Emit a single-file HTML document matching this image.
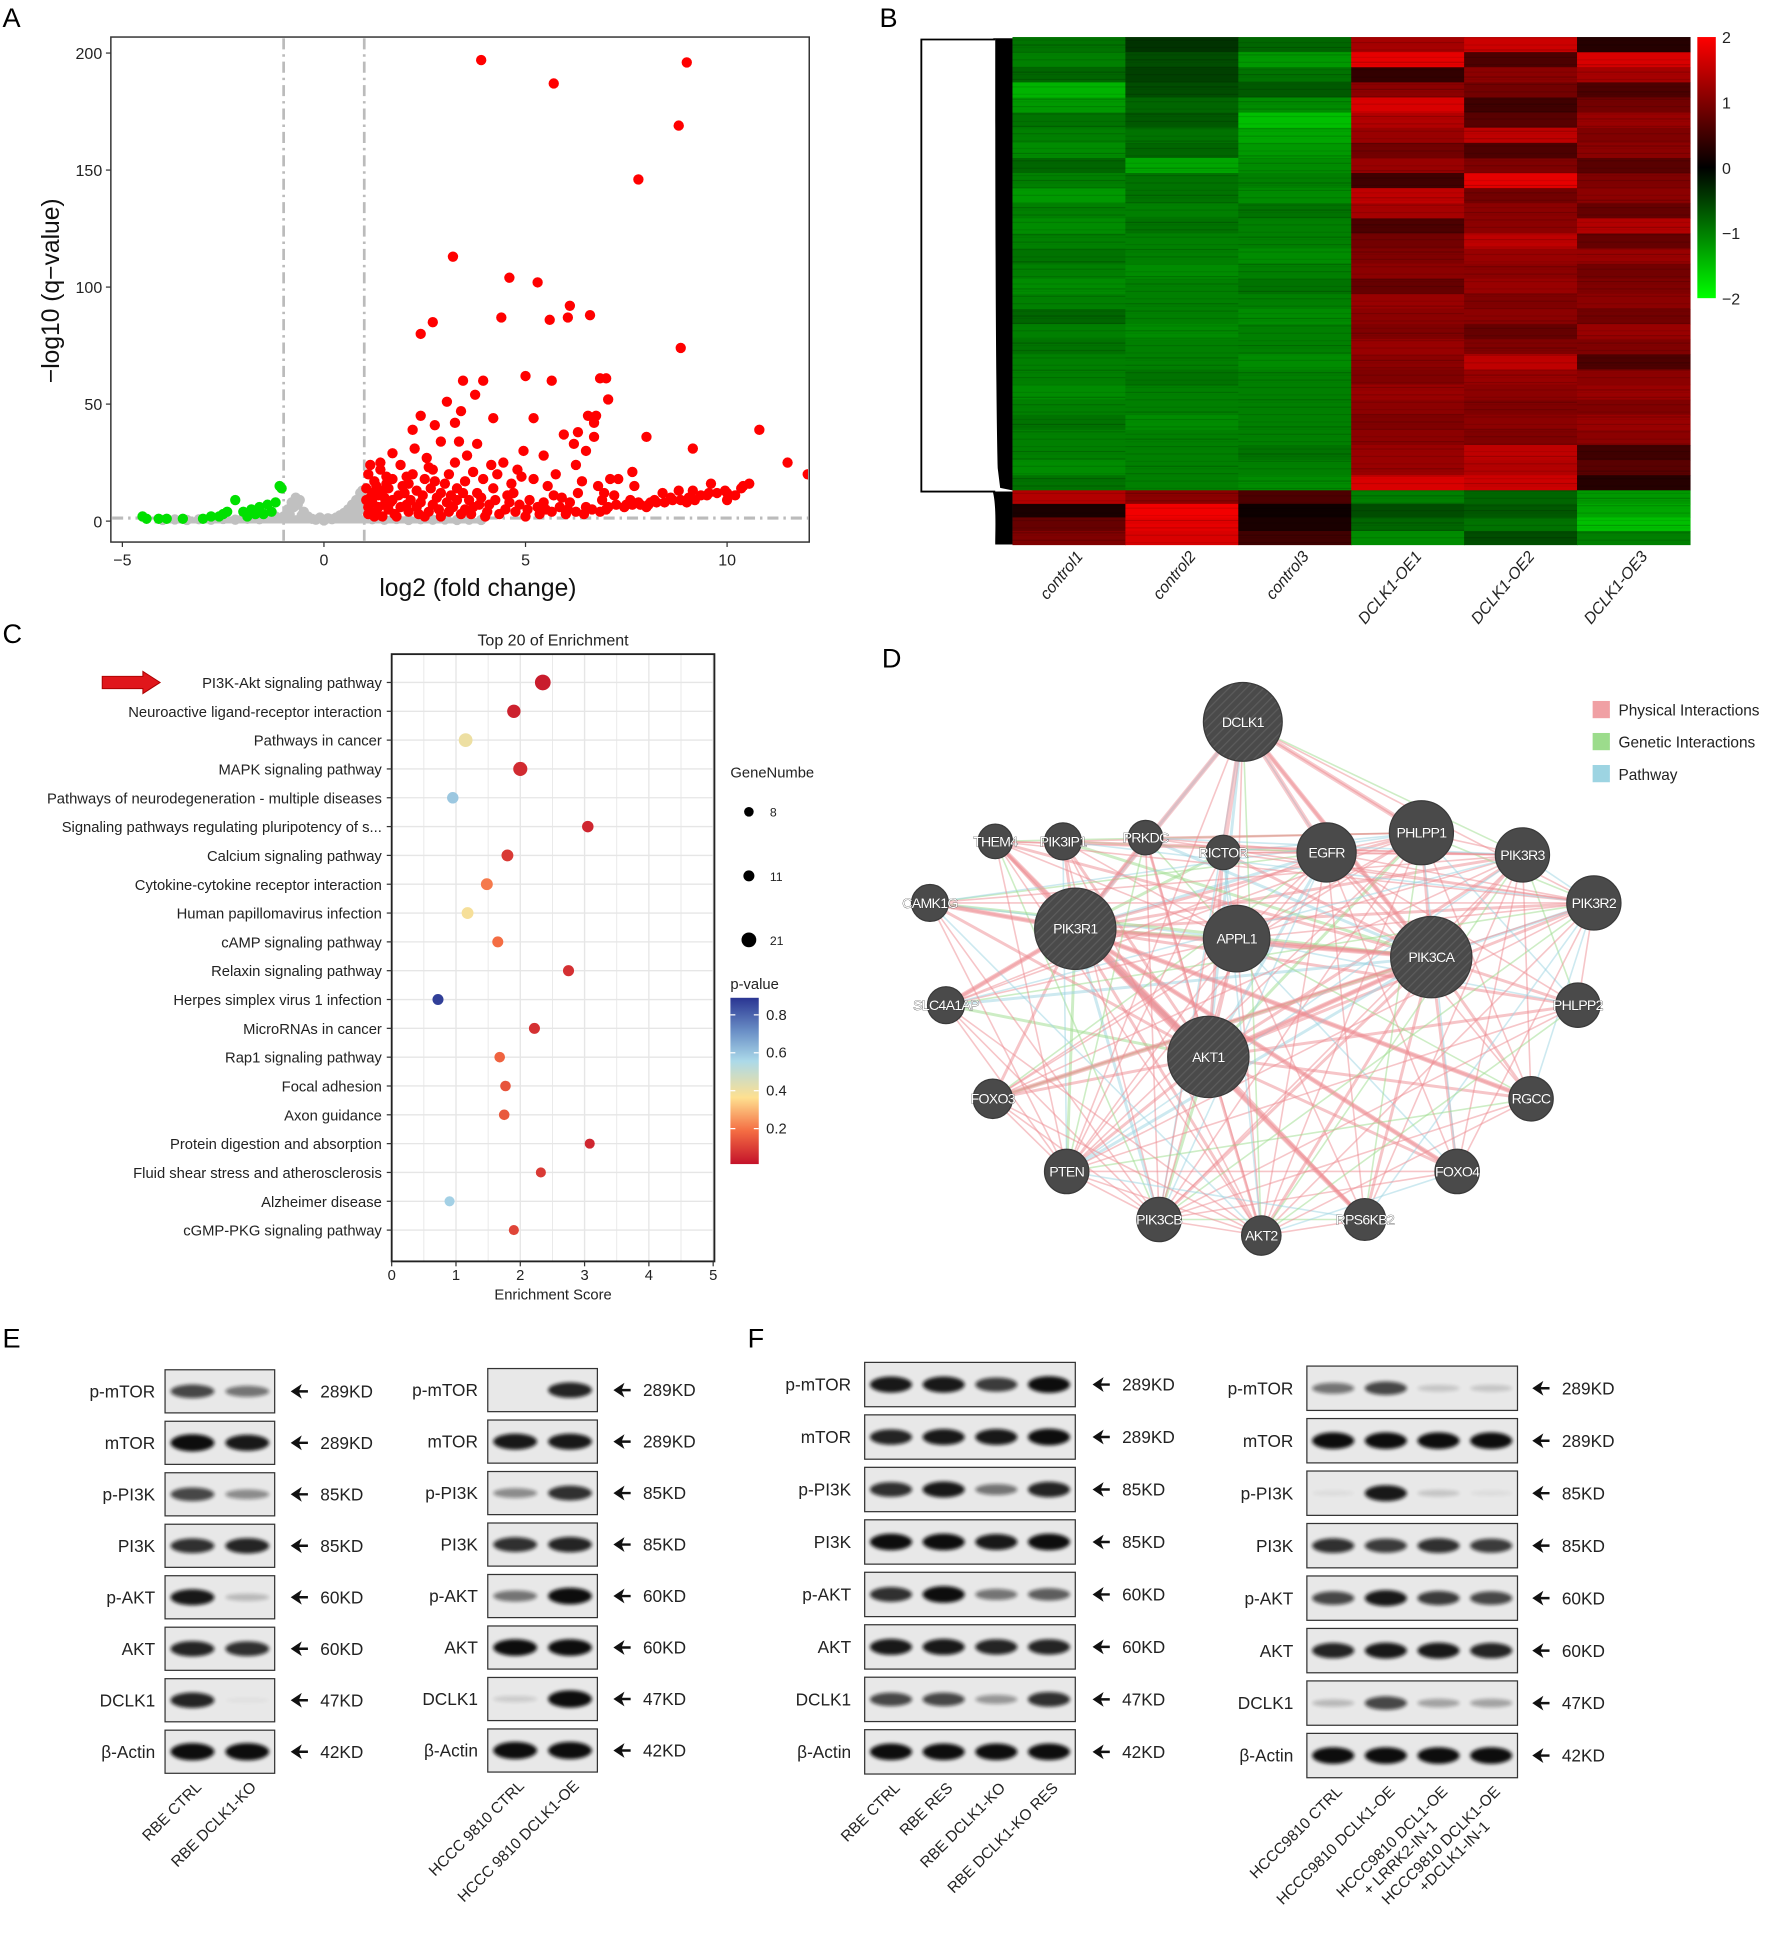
<!DOCTYPE html>
<html><head><meta charset="utf-8"><style>
html,body{margin:0;padding:0;background:#fff}
svg{display:block}
text{font-family:"Liberation Sans",sans-serif}
</style></head><body>
<svg id="fig" width="1770" height="1934" viewBox="0 0 1437 1570" xmlns="http://www.w3.org/2000/svg">
<defs>
<filter id="blur" x="-20%" y="-80%" width="140%" height="260%"><feGaussianBlur stdDeviation="1.6"/></filter>
<linearGradient id="hmbar" x1="0" y1="1" x2="0" y2="0"><stop offset="0" stop-color="#00ff00"/><stop offset="0.5" stop-color="#000"/><stop offset="1" stop-color="#ff0000"/></linearGradient>
<linearGradient id="pbar" x1="0" y1="1" x2="0" y2="0"><stop offset="0" stop-color="#c4122a"/><stop offset="0.2" stop-color="#f46d43"/><stop offset="0.4" stop-color="#fee090"/><stop offset="0.62" stop-color="#abd9e9"/><stop offset="0.8" stop-color="#6a8fc6"/><stop offset="1" stop-color="#2a3592"/></linearGradient>
<pattern id="hatch" width="5" height="5" patternUnits="userSpaceOnUse" patternTransform="rotate(45)"><rect width="5" height="5" fill="#4a4a4a"/><line x1="0" y1="0" x2="0" y2="5" stroke="#5c5c5c" stroke-width="2"/></pattern>
<clipPath id="volcClip"><rect x="91" y="31" width="565" height="408"/></clipPath>
</defs>
<g id="letters" font-size="22">
<text x="2" y="22">A</text>
<text x="714" y="22">B</text>
<text x="2" y="522">C</text>
<text x="716" y="542">D</text>
<text x="2" y="1094">E</text>
<text x="607" y="1094">F</text>
</g>
<g id="A"></g>
<g id="B"></g>
<g id="C"></g>
<g id="D"></g>
<g id="E"></g>
<g id="F"></g>
</svg>
<script>
const NS="http://www.w3.org/2000/svg";
function mk(p,tag,at,txt){const e=document.createElementNS(NS,tag);for(const k in at)e.setAttribute(k,at[k]);if(txt!==undefined)e.textContent=txt;p.appendChild(e);return e;}

/* ===== Panel A data ===== */
const volcRed=[[3.9,197],[9,196],[5.7,187],[8.8,169],[7.8,146],[3.2,113],[4.6,104],[5.3,102],[6.1,92],[4.4,87],[5.6,86],[6.05,87],[6.6,88],[2.7,85],[2.4,80],[8.85,74],[3.45,60],[3.95,60],[5,62],[5.65,60],[7,61],[6.85,61],[7.05,52],[3.05,51],[3.75,54],[3.4,47],[2.4,45],[4.2,44],[5.2,44],[6.55,45],[6.75,45],[6.7,42],[2.75,41],[3.25,42],[2.2,39],[6.3,38],[5.95,37],[8.0,36],[10.8,39],[9.15,31],[6.7,36],[6.5,30],[6.2,33],[2.9,34],[3.35,34],[3.8,33],[4.95,30],[5.45,28],[2.25,31],[1.7,29],[1.4,25],[2.55,27],[3.55,28],[4.45,25],[4.8,22],[6.25,24],[11.5,25],[12,20],[12.05,20],[7.65,21],[7.3,18],[7.1,18],[7.7,15],[9.6,16],[9.15,13],[10.4,15],[10.55,16],[10,12],[10,9],[9.5,11],[8.8,13],[8.4,12],[7.6,9],[8.1,8],[5.2,18],[4.9,19],[5.55,15],[6.8,15],[6.3,12],[5.9,10],[4.2,14],[3.8,12],[3,16],[2.2,20],[1.7,18],[1.3,15],[1.1,20],[1.5,10],[2.4,8],[3.2,6],[4.5,5],[5.5,5],[6.5,6],[7.5,7],[9,8],[1.2,8],[2,12],[2.8,10],[3.6,9],[4.6,8],[1.6,5],[2.6,4],[3.4,3],[4.0,2],[5,2],[6,3],[7,5],[8,6],[9.2,9],[10.2,11],[1.1,3],[1.8,2],[2.9,2],[1.2,12],[1.4,22],[1.6,14],[1.9,24],[2.1,16],[2.3,13],[2.5,18],[2.7,22],[2.9,12],[3.1,20],[3.3,14],[3.5,17],[3.7,21],[3.9,10],[4.1,7],[4.3,20],[4.7,12],[5.1,9],[5.3,6],[5.7,11],[6.1,8],[6.4,17],[6.9,9],[7.2,11],[7.8,8],[8.2,9],[8.6,10],[1.3,4],[1.5,7],[1.7,9],[1.9,6],[2.1,4],[2.3,6],[2.5,2],[2.7,7],[3.1,4],[3.3,9],[3.5,5],[3.7,6],[1.1,6],[1.25,17],[1.85,11],[2.05,7],
[1.15,10],[1.35,6],[1.45,13],[1.55,19],[1.75,3],[1.95,15],[2.15,9],[2.35,3],[2.45,11],[2.65,14],[2.85,5],[3.05,8],[3.15,11],[3.45,12],[3.65,3],[3.85,7],[4.05,4],[4.25,9],[4.35,3],[4.55,11],[4.75,4],[4.85,7],[5.05,5],[5.35,3],[5.45,8],[5.65,4],[5.85,6],[6.05,5],[6.25,4],[6.45,3],[6.65,5],[6.85,4],[7.05,6],[7.25,7],[7.45,6],[7.65,7],[7.85,7],[8.05,7],[8.25,8],[8.45,8],[8.65,9],[8.85,9],[9.05,10],[9.35,11],[9.55,12],[9.75,12],[9.95,13],[10.35,14],[1.05,14],[1.15,24],[1.25,2],[1.45,2],[1.65,8],[2.75,17],[3.25,25],[3.95,18],[4.15,24],[4.65,16],[5.75,20],[6.95,12],[1.05,9],[1.35,11],[1.55,16],[2.05,19],[2.6,23]];
const volcGreen=[[-4.5,2],[-4.4,1],[-4.1,1],[-3.9,1],[-3.5,1],[-2.8,2],[-2.5,3],[-2.4,4],[-2.2,9],[-2,4],[-1.8,5],[-1.6,6],[-1.4,7],[-1.2,8],[-1.1,15],[-1.05,14],[-1.3,4],[-1.7,3],[-2.6,2],[-3.0,1],[-1.9,2],[-1.5,3]];
const volcGray=[[-4,0.5],[-3.7,0.7],[-3.4,0.5],[-3.1,0.8],[-2.8,0.6],[-2.5,0.9],[-2.2,0.6],[-1.9,1],[-1.6,0.8],[-1.3,1.4],[-1,2],[-0.9,5],[-0.8,8],[-0.7,10],[-0.6,9],[-0.5,4],[-0.4,2],[-0.3,1],[-0.2,0.6],[0,0.3],[0.2,0.8],[0.3,1.5],[0.4,2.5],[0.5,3.5],[0.6,5],[0.7,7],[0.8,9],[0.9,12],[0.95,13],[1.0,6],[0.85,4],[0.75,3],[-0.85,3],[-0.95,1.5],[1.2,0.8],[1.5,0.6],[1.8,0.9],[2.1,0.5],[2.4,0.8],[2.7,0.6],[3,0.7],[3.3,0.5],[3.6,0.6],[3.9,0.5],[-1.2,2],[-1.5,2.5],[-2,1.5],[0.1,1.2],[-0.1,1.5],[0.65,2],[0.9,8],[0.95,10],[0.8,6],[-0.75,6],[-0.65,7],[0.55,2],[0.45,1.2],[-0.55,2.5]];
const volcXTicks=[-5,0,5,10];
const volcYTicks=[0,50,100,150,200];
(function(){
 const g=document.getElementById('A');
 const X=v=>263+v*32.73, Y=v=>423-v*1.9;
 const box=mk(g,'rect',{x:90,y:30,width:567,height:410,fill:'none',stroke:'#333','stroke-width':1.2});
 
 volcXTicks.forEach(t=>{mk(g,'line',{x1:X(t),y1:440,x2:X(t),y2:444,stroke:'#333'});
  const e=mk(g,'text',{x:X(t),y:459,'text-anchor':'middle','font-size':13,fill:'#222'},t===-5?'−5':t);
  });
 volcYTicks.forEach(t=>{mk(g,'line',{x1:86,y1:Y(t),x2:90,y2:Y(t),stroke:'#333'});
  const e=mk(g,'text',{x:83,y:Y(t)+5,'text-anchor':'end','font-size':13,fill:'#222'},t);
  });
 const cp=mk(g,'g',{'clip-path':'url(#volcClip)'});
 mk(cp,'line',{x1:X(-1),y1:31,x2:X(-1),y2:439,stroke:'#bbb','stroke-width':2.2,'stroke-dasharray':'9 4 2 4'});
 mk(cp,'line',{x1:X(1),y1:31,x2:X(1),y2:439,stroke:'#bbb','stroke-width':2.2,'stroke-dasharray':'9 4 2 4'});
 mk(cp,'line',{x1:91,y1:Y(1.3),x2:656,y2:Y(1.3),stroke:'#bbb','stroke-width':2.5,'stroke-dasharray':'9 4 2 4'});
 mk(cp,'path',{d:`M${X(-4.2)},${Y(-1)} L${X(3.9)},${Y(-1)} L${X(3.9)},${Y(1.2)} L${X(1)},${Y(2.5)} L${X(-1)},${Y(2.5)} L${X(-4.2)},${Y(1.2)}Z`,fill:'#c0c0c0'});
 volcGray.forEach(p=>{const c=mk(cp,'circle',{cx:X(p[0]),cy:Y(p[1]),r:4.2,fill:'#c0c0c0'});});
 volcGreen.forEach(p=>{const c=mk(cp,'circle',{cx:X(p[0]),cy:Y(p[1]),r:4.2,fill:'#00e000'});});
 volcRed.forEach(p=>{const c=mk(cp,'circle',{cx:X(p[0]),cy:Y(p[1]),r:4.2,fill:'#ff0000'});});
 const xl=mk(g,'text',{x:388,y:484,'text-anchor':'middle','font-size':20,fill:'#111'},'log2 (fold change)');
 const yl=mk(g,'text',{x:0,y:0,transform:'translate(48,236) rotate(-90)','text-anchor':'middle','font-size':20,fill:'#111'},'−log10 (q−value)');
})();

/* ===== Panel B data ===== */
const hmSamples=['control1','control2','control3','DCLK1-OE1','DCLK1-OE2','DCLK1-OE3'];
const hmUpper=[
[-0.9,-0.4,-0.8,1.3,1.6,0.3],[-1.0,-0.6,-1.2,1.8,0.6,1.7],[-0.8,-0.5,-0.9,0.4,1.1,1.3],[-1.4,-0.6,-0.7,1.1,0.9,0.6],[-1.2,-0.8,-1.1,1.7,0.5,0.9],
[-0.9,-0.7,-1.5,1.4,0.7,1.2],[-1.0,-0.9,-1.3,1.2,1.5,1.0],[-1.1,-0.8,-1.2,0.9,0.6,1.1],[-0.8,-1.3,-1.1,1.2,1.0,0.7],[-1.0,-0.9,-1.0,0.5,1.8,1.0],
[-1.2,-0.9,-1.1,1.5,0.9,1.1],[-1.0,-1.0,-0.9,1.3,1.1,0.8],[-1.1,-0.9,-1.0,0.6,1.1,1.4],[-1.0,-1.0,-1.0,0.9,1.5,0.8],[-0.9,-1.0,-1.1,1.0,1.2,1.2],
[-1.0,-1.1,-1.0,1.1,1.1,0.9],[-1.1,-1.0,-0.9,0.8,1.2,1.0],[-1.0,-1.0,-1.0,1.2,1.0,1.1],[-0.8,-1.0,-1.1,1.1,1.1,0.9],[-1.0,-1.1,-1.0,1.0,0.8,1.2],
[-0.9,-1.0,-1.0,1.2,1.0,1.0],[-1.0,-1.0,-1.1,1.1,1.5,0.6],[-1.0,-0.9,-1.0,1.0,1.2,1.1],[-1.1,-1.0,-1.0,1.2,1.1,1.2],[-1.0,-1.0,-1.0,1.1,1.0,1.0],
[-0.9,-1.1,-1.0,1.0,1.1,1.2],[-1.0,-1.0,-1.0,1.1,1.0,1.1],[-1.0,-1.0,-0.9,1.2,1.5,0.5],[-1.1,-1.0,-1.0,1.2,1.4,0.7],[-0.9,-1.0,-1.1,1.7,1.6,0.3]];
const hmLower=[[1.4,1.1,0.6,-1.0,-0.8,-1.2],[0.2,1.9,0.1,-0.6,-0.7,-1.3],[0.8,1.8,0.2,-0.8,-0.9,-1.5],[1.0,1.7,0.5,-1.1,-0.6,-1.0]];
const hmTicks=[2,1,0,-1,-2];
(function(){
 const g=document.getElementById('B');
 const x0=822,x1=1372,y0=30,ySplit=398,y1=442,cw=(x1-x0)/6;
 function col(v){v=Math.max(-2,Math.min(2,v));if(v>=0){return `rgb(${Math.round(v/2*255)},0,0)`;}return `rgb(0,${Math.round(-v/2*255)},0)`;}
 const uh=(ySplit-y0)/hmUpper.length;
 hmUpper.forEach((r,i)=>r.forEach((v,j)=>{const c=mk(g,'rect',{x:x0+j*cw,y:y0+i*uh,width:cw+0.5,height:uh+0.5,fill:col(v)});}));
 const lh=(y1-ySplit)/hmLower.length;
 hmLower.forEach((r,i)=>r.forEach((v,j)=>{const c=mk(g,'rect',{x:x0+j*cw,y:ySplit+i*lh,width:cw+0.5,height:lh+0.5,fill:col(v)});}));
 const tex=mk(g,'g',{});
 for(let k=0;k<206;k++){for(let j=0;j<6;j++){const o=((k*7+j*13)%11)/11;if(o<0.45)continue;mk(tex,'rect',{x:x0+j*cw,y:y0+k*2,width:cw,height:1,fill:'#000',opacity:(o-0.4)*0.35});}}
 const dn=mk(g,'g',{});
 mk(dn,'path',{d:`M808,32 L748,32 L748,399 L808,399`,fill:'none',stroke:'#000','stroke-width':1.5});
 mk(dn,'path',{d:`M806,31 L822,31 L822,398 L812,396 L810,380 C808,300 808,100 808,32Z`,fill:'#000'});
 mk(dn,'path',{d:`M806,399 L822,399 L822,442 L808,442 C808,430 809,410 806,399Z`,fill:'#000'});
 const cb=mk(g,'rect',{x:1378,y:30,width:15,height:212,fill:'url(#hmbar)'});
 hmTicks.forEach((t,i)=>{const e=mk(g,'text',{x:1398,y:35+i*53,'font-size':13,fill:'#222'},t<0?'−'+(-t):t);});
 hmSamples.forEach((s,j)=>{const cx=x0+(j+0.5)*cw+12;const e=mk(g,'text',{x:0,y:0,transform:`translate(${cx},452) rotate(-50)`,'text-anchor':'end','font-size':13,'font-style':'italic',fill:'#222'},s);});
})();

/* ===== Panel C data ===== */
const pathways=['PI3K-Akt signaling pathway','Neuroactive ligand-receptor interaction','Pathways in cancer','MAPK signaling pathway','Pathways of neurodegeneration - multiple diseases','Signaling pathways regulating pluripotency of s...','Calcium signaling pathway','Cytokine-cytokine receptor interaction','Human papillomavirus infection','cAMP signaling pathway','Relaxin signaling pathway','Herpes simplex virus 1 infection','MicroRNAs in cancer','Rap1 signaling pathway','Focal adhesion','Axon guidance','Protein digestion and absorption','Fluid shear stress and atherosclerosis','Alzheimer disease','cGMP-PKG signaling pathway'];
const enrichScore=[2.35,1.9,1.15,2.0,0.95,3.05,1.8,1.48,1.18,1.65,2.75,0.72,2.22,1.68,1.77,1.75,3.08,2.32,0.9,1.9];
const pValues=[0.02,0.03,0.4,0.05,0.6,0.04,0.08,0.2,0.38,0.18,0.06,0.88,0.06,0.16,0.13,0.14,0.04,0.08,0.58,0.1];
const geneNumber=[24,17,18,19,12,12,13,13,13,11,11,11,11,10,10,10,9,9,9,9];
const sizeLegend=[8,11,21];
const pTicks=[0.8,0.6,0.4,0.2];
const scoreTicks=[0,1,2,3,4,5];
(function(){
 const g=document.getElementById('C');
 const X=v=>318+v*52.2, rowY=i=>554+i*23.4;
 const rs=n=>1.2*Math.sqrt(n)+0.5;
 function pcol(p){const st=[[0,[196,18,42]],[0.18,[244,109,67]],[0.36,[254,224,144]],[0.56,[171,217,233]],[0.72,[106,143,198]],[0.9,[42,53,146]]];p=Math.max(0,Math.min(0.9,p));for(let i=1;i<st.length;i++){if(p<=st[i][0]){const a=st[i-1],b=st[i],t=(p-a[0])/(b[0]-a[0]);return `rgb(${a[1].map((c,k)=>Math.round(c+(b[1][k]-c)*t)).join(',')})`;}}return 'rgb(42,53,146)';}
 mk(g,'rect',{x:318,y:531,width:262,height:493,fill:'#fff'});
 for(let v=0;v<=5;v+=0.5){mk(g,'line',{x1:X(v),y1:531,x2:X(v),y2:1024,stroke:'#e6e6e6','stroke-width':v%1?0.7:1.1});}
 pathways.forEach((p,i)=>mk(g,'line',{x1:318,y1:rowY(i),x2:580,y2:rowY(i),stroke:'#e6e6e6','stroke-width':1.1}));
 mk(g,'rect',{x:318,y:531,width:262,height:493,fill:'none',stroke:'#222','stroke-width':1.5});
 const t=mk(g,'text',{x:449,y:524,'text-anchor':'middle','font-size':13,fill:'#222'},'Top 20 of  Enrichment');
 pathways.forEach((p,i)=>{
  const e=mk(g,'text',{x:310,y:rowY(i)+4.5,'text-anchor':'end','font-size':12,fill:'#222'},p);
  mk(g,'line',{x1:314,y1:rowY(i),x2:318,y2:rowY(i),stroke:'#333'});
  const c=mk(g,'circle',{cx:X(enrichScore[i]),cy:rowY(i),r:rs(geneNumber[i]),fill:pcol(pValues[i])});
 });
 scoreTicks.forEach(v=>{mk(g,'line',{x1:X(v),y1:1024,x2:X(v),y2:1028,stroke:'#333'});const e=mk(g,'text',{x:X(v),y:1039,'text-anchor':'middle','font-size':12,fill:'#222'},v);});
 const xl=mk(g,'text',{x:449,y:1055,'text-anchor':'middle','font-size':12,fill:'#222'},'Enrichment Score');
 const ar=mk(g,'path',{d:'M83,549 L116,549 L116,545 L130,554 L116,563 L116,559 L83,559Z',fill:'#e0161b',stroke:'#a00','stroke-width':0.8});
 const lt=mk(g,'text',{x:593,y:631,'font-size':12,fill:'#222'},'GeneNumbe');
 sizeLegend.forEach((n,i)=>{const y=659+i*52;const c=mk(g,'circle',{cx:608,cy:y,r:rs(n),fill:'#000'});mk(g,'text',{x:625,y:y+4,'font-size':10,fill:'#222'},n);});
 const pt=mk(g,'text',{x:593,y:803,'font-size':12,fill:'#222'},'p-value');
 const pb=mk(g,'rect',{x:593,y:810,width:23,height:135,fill:'url(#pbar)'});
 pTicks.forEach(v=>{const y=945-(v-0.013)/0.877*135;mk(g,'line',{x1:593,y1:y,x2:597,y2:y,stroke:'#fff'});mk(g,'line',{x1:612,y1:y,x2:616,y2:y,stroke:'#fff'});const e=mk(g,'text',{x:622,y:y+4,'font-size':12,fill:'#222'},v);});
})();

/* ===== Panel D data ===== */
const nodeNames=['DCLK1','THEM4','PIK3IP1','PRKDC','RICTOR','EGFR','PHLPP1','PIK3R3','PIK3R2','CAMK1G','PIK3R1','APPL1','PIK3CA','SLC4A1AP','PHLPP2','AKT1','FOXO3','RGCC','PTEN','FOXO4','PIK3CB','AKT2','RPS6KB2'];
const nodeX=[1009,808,863,930,993,1077,1154,1236,1294,755,873,1004,1162,768,1281,981,806,1243,866,1183,941,1024,1108];
const nodeY=[586,683,683,680,692,692,676,694,733,733,754,762,777,816,816,858,892,892,951,951,990,1003,990];
const nodeR=[32,14,15,14,14,24,26,22,22,15,33,27,33,15,18,33,16,18,18,18,18,16,17];
const hubs=['PIK3R1','AKT1','PIK3CA','APPL1','EGFR','PHLPP1','PIK3R3','PIK3R2','PIK3CB','PTEN','AKT2'];
const legendD=[['Physical Interactions','#f0a0a4'],['Genetic Interactions','#9cdc8c'],['Pathway','#9dd4e2']];
(function(){
 const g=document.getElementById('D');
 const idx=n=>nodeNames.indexOf(n);
 const eg=mk(g,'g',{});
 hubs.forEach((h,hi)=>{const a=idx(h);nodeNames.forEach((n,b)=>{if(b===a)return;if(hubs.indexOf(n)>=0&&hubs.indexOf(n)<hi)return;
   const kind=(a+b)%7===0?'#9cdc8c':((a+b)%5===0?'#9dd4e2':'#ee8c92');
   const w=(hi<3)?2.4:1.3;
   const l=mk(eg,'line',{x1:nodeX[a],y1:nodeY[a],x2:nodeX[b],y2:nodeY[b],stroke:kind,'stroke-width':w,opacity:0.5});});});
 [['DCLK1','RICTOR'],['DCLK1','PIK3R1'],['DCLK1','PIK3CA'],['DCLK1','EGFR'],['DCLK1','PHLPP1'],['CAMK1G','PIK3R1'],['THEM4','AKT1'],['SLC4A1AP','PIK3R1'],['FOXO3','PIK3CA'],['RGCC','PIK3R1'],['FOXO4','PIK3R1'],['RPS6KB2','PIK3R1'],['PIK3R1','PIK3CA'],['AKT1','PIK3CA'],['PIK3R1','AKT1']].forEach(e=>{const a=idx(e[0]),b=idx(e[1]);const l=mk(eg,'line',{x1:nodeX[a],y1:nodeY[a],x2:nodeX[b],y2:nodeY[b],stroke:'#ee8c92','stroke-width':4,opacity:0.45});});
 nodeNames.forEach((n,i)=>{const big=nodeR[i]>=32;
  const c=mk(g,'circle',{cx:nodeX[i],cy:nodeY[i],r:nodeR[i],fill:big?'url(#hatch)':'#4a4a4a',stroke:'#3a3a3a'});
  const t=mk(g,'text',{x:nodeX[i],y:nodeY[i]+4,'text-anchor':'middle','font-size':11.5,'letter-spacing':-0.6,fill:'#fff',stroke:'#333','stroke-width':0.5,'paint-order':'stroke'},n);});
 legendD.forEach((l,i)=>{const y=576+i*26;const r=mk(g,'rect',{x:1293,y:y-7,width:14,height:14,fill:l[1]});const t=mk(g,'text',{x:1314,y:y+5,'font-size':12.5,fill:'#222'},l[0]);});
})();

/* ===== Blots data ===== */
const blotProteins=['p-mTOR','mTOR','p-PI3K','PI3K','p-AKT','AKT','DCLK1','β-Actin'];
const blotSizes=['289KD','289KD','85KD','85KD','60KD','60KD','47KD','42KD'];
const eLeftBands=[[0.7,0.5],[1,0.9],[0.7,0.4],[0.8,0.85],[0.9,0.2],[0.85,0.8],[0.85,0.03],[1,1]];
const eRightBands=[[0,0.85],[0.9,0.9],[0.4,0.8],[0.8,0.85],[0.5,0.95],[0.95,0.95],[0.12,1],[1,1]];
const fLeftBands=[[0.9,0.9,0.75,0.95],[0.85,0.9,0.9,0.95],[0.8,0.9,0.5,0.85],[0.95,0.95,0.9,0.95],[0.8,0.95,0.5,0.6],[0.9,0.9,0.85,0.85],[0.7,0.7,0.35,0.8],[0.95,0.95,0.95,0.95]];
const fRightBands=[[0.5,0.7,0.15,0.15],[0.95,0.95,0.95,0.95],[0.05,0.9,0.15,0.05],[0.8,0.75,0.8,0.75],[0.7,0.9,0.75,0.7],[0.85,0.9,0.9,0.85],[0.2,0.7,0.3,0.3],[0.95,0.95,0.95,0.95]];
const eLeftLanes=[['RBE CTRL'],['RBE DCLK1-KO']];
const eRightLanes=[['HCCC 9810 CTRL'],['HCCC 9810  DCLK1-OE']];
const fLeftLanes=[['RBE CTRL'],['RBE RES'],['RBE DCLK1-KO'],['RBE DCLK1-KO RES']];
const fRightLanes=[['HCCC9810 CTRL'],['HCCC9810 DCLK1-OE'],['HCCC9810 DCL1-OE','+ LRRK2-IN-1'],['HCCC9810 DCLK1-OE','+DCLK1-IN-1']];
function blot(gid,x,y0,w,step,h,bands,lanes,labX,arrX){
 const g=mk(document.getElementById(gid),'g',{});
 
 const nl=bands[0].length,lw=w/nl;
 bands.forEach((row,i)=>{const y=y0+i*step;
  const b=mk(g,'rect',{x:x,y:y,width:w,height:h,fill:'#e8e8e8',stroke:'#333','stroke-width':1});
  row.forEach((v,k)=>{if(v<=0.02)return;const cx=x+(k+0.5)*lw;
   const e=mk(g,'ellipse',{cx:cx,cy:y+h/2,rx:lw*0.4,ry:2+v*5,fill:'#111',opacity:Math.min(1,v*1.05),filter:'url(#blur)'});});
  const t=mk(g,'text',{x:labX,y:y+h/2+5,'text-anchor':'end','font-size':14,fill:'#222'},blotProteins[i]);
  const ay=y+h/2;
  mk(g,'path',{d:`M${arrX},${ay} L${arrX+9},${ay-6} L${arrX+7},${ay-1} L${arrX+14},${ay-1} L${arrX+14},${ay+1} L${arrX+7},${ay+1} L${arrX+9},${ay+6}Z`,fill:'#111'});
  const s=mk(g,'text',{x:arrX+24,y:ay+5,'font-size':14,fill:'#222'},blotSizes[i]);
 });
 const by=y0+7*step+h+12;
 lanes.forEach((l,k)=>{const cx=x+(k+0.5)*lw+8;
  const t=mk(g,'text',{x:0,y:0,transform:`translate(${cx},${by}) rotate(-45)`,'text-anchor':'end','font-size':12.5,fill:'#222'});
  
  if(l.length===1)t.textContent=l[0];else{mk(t,'tspan',{x:0,dy:0},l[0]);mk(t,'tspan',{x:-26,dy:14},l[1]);}
 });
}
blot('E',134,1112,89,41.8,35,eLeftBands,eLeftLanes,126,236);
blot('E',396,1111,89,41.8,35,eRightBands,eRightLanes,388,498);
blot('F',702,1106,171,42.6,36,fLeftBands,fLeftLanes,691,887);
blot('F',1061,1109,171,42.6,36,fRightBands,fRightLanes,1050,1244);
</script>
</body></html>
